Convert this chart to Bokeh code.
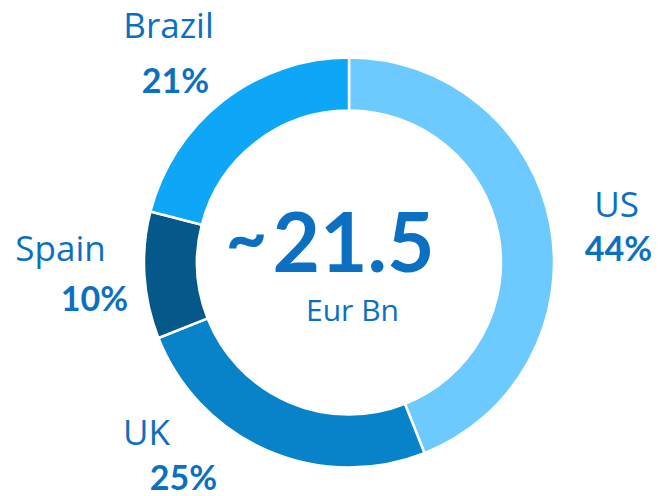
import numpy as np
from bokeh.plotting import figure
from bokeh.models import ColumnDataSource, Range1d
from bokeh.core.properties import value
from bokeh.embed import file_html
from bokeh.resources import INLINE

# data
countries = ["US", "UK", "Spain", "Brazil"]
shares = [44, 25, 10, 21]
colors = ["#6DCAFF", "#0883C9", "#04598A", "#0EA7F7"]
total_label = "21.5"
unit_label = "Eur Bn"

W, H = 662, 496
p = figure(width=W, height=H, output_backend="svg", toolbar_location=None,
           x_range=Range1d(0, W), y_range=Range1d(0, H), min_border=0)
p.axis.visible = False
p.grid.visible = False
p.outline_line_color = None
p.background_fill_color = "white"

cx, cy = 348.5, H - 262
r_in, r_out = 152, 205

frac = np.array(shares, dtype=float) / sum(shares)
cum = np.concatenate([[0], np.cumsum(frac)])
start = np.pi / 2 - cum[:-1] * 2 * np.pi
end = np.pi / 2 - cum[1:] * 2 * np.pi
src = ColumnDataSource(dict(start=start, end=end, color=colors))
p.annular_wedge(x=cx, y=cy, inner_radius=r_in, outer_radius=r_out,
                start_angle="start", end_angle="end", direction="clock",
                fill_color="color", line_color="white", line_width=2.5, source=src)

txt = "#0B70C2"
reg = value("Open Sans")
bold = value("Lato")
# label layout (screen coords, converted below)
name_xy = {"US": (616, 203), "UK": (146, 431), "Spain": (60, 247), "Brazil": (168, 24)}
pct_xy = {"US": (618, 247), "UK": (183, 476), "Spain": (94, 297), "Brazil": (175, 79)}

names = ColumnDataSource(dict(
    x=[name_xy[c][0] for c in countries], y=[H - name_xy[c][1] for c in countries],
    t=countries))
p.text(x="x", y="y", text="t", source=names, text_font=reg, text_font_size="35px",
       text_color=txt, text_align="center", text_baseline="middle")
pcts = ColumnDataSource(dict(
    x=[pct_xy[c][0] for c in countries], y=[H - pct_xy[c][1] for c in countries],
    t=[f"{s}%" for s in shares]))
p.text(x="x", y="y", text="t", source=pcts, text_font=bold, text_font_size="34px",
       text_font_style="bold", text_color=txt, text_align="center", text_baseline="middle")

p.text(x=[353], y=[H - 241], text=[total_label], text_font=bold, text_font_size="82px",
       text_font_style="bold", text_color=txt, text_align="center", text_baseline="middle")
p.text(x=[246], y=[H - 234], text=["~"], text_font=bold, text_font_size="72px",
       text_font_style="bold", text_color=txt, text_align="center", text_baseline="middle")
p.text(x=[352], y=[H - 309], text=[unit_label], text_font=reg, text_font_size="30px",
       text_color=txt, text_align="center", text_baseline="middle")

open("out.html", "w").write(file_html(p, INLINE))
